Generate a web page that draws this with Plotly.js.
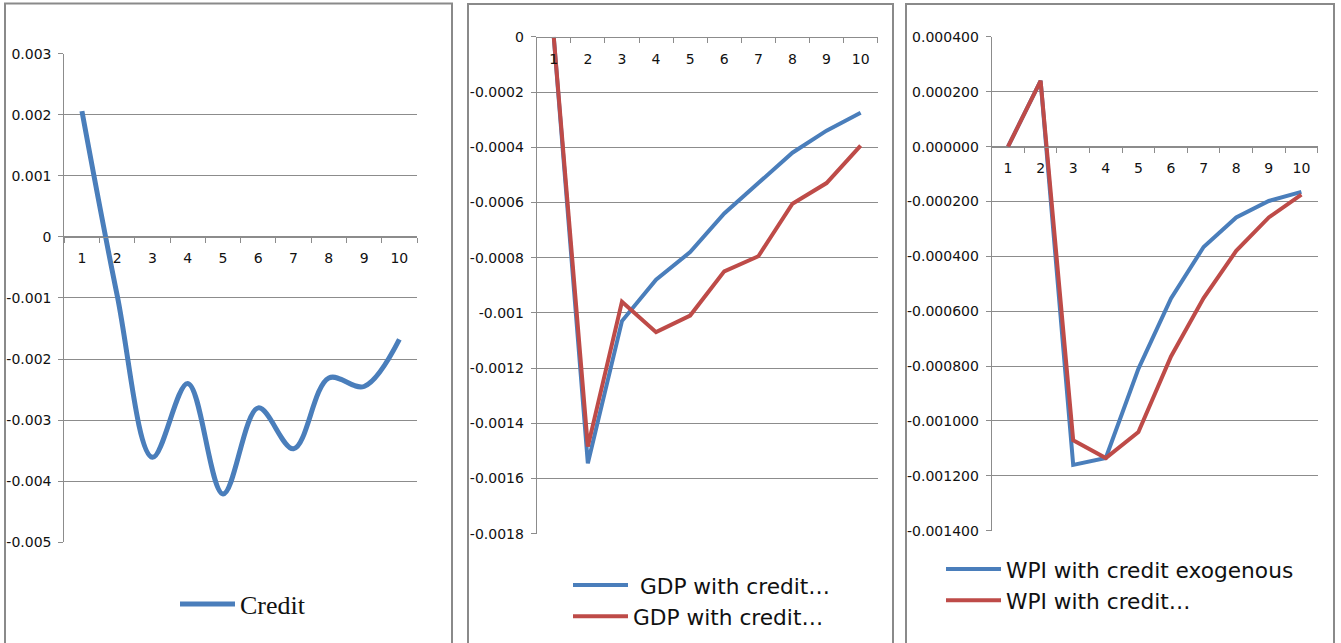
<!DOCTYPE html>
<html>
<head>
<meta charset="utf-8">
<script src="https://cdn.plot.ly/plotly-3.0.1.min.js"></script>
<style>
  body { margin: 0; background: #fff; }
  #chart { width: 1341px; height: 643px; }
</style>
</head>
<body>
<div id="chart"></div>
<script>
// periods 1..10 (impulse response horizon)
var periods = ['1', '2', '3', '4', '5', '6', '7', '8', '9', '10'];

// panel 1: credit response
var credit = [0.00206, -0.00096, -0.00361, -0.0024, -0.00421, -0.0028, -0.00347, -0.00231, -0.00245, -0.00168];

// panel 2: GDP response
var gdp_exo = [0, -0.001545, -0.00103, -0.00088, -0.00078, -0.00064, -0.00053, -0.00042, -0.00034, -0.000275];
var gdp_endo = [0, -0.001485, -0.00096, -0.00107, -0.00101, -0.00085, -0.000795, -0.000605, -0.00053, -0.000394];

// panel 3: WPI response
var wpi_exo = [0, 0.00024, -0.00116, -0.001135, -0.00081, -0.000553, -0.000366, -0.000258, -0.000198, -0.000165];
var wpi_endo = [0, 0.00024, -0.00107, -0.001135, -0.00104, -0.000765, -0.000552, -0.00038, -0.000258, -0.000175];

var credit_ticks = [0.003, 0.002, 0.001, 0, -0.001, -0.002, -0.003, -0.004, -0.005];
var credit_ticktext = ['0.003', '0.002', '0.001', '0', '-0.001', '-0.002', '-0.003', '-0.004', '-0.005'];
var gdp_ticks = [0, -0.0002, -0.0004, -0.0006, -0.0008, -0.001, -0.0012, -0.0014, -0.0016, -0.0018];
var gdp_ticktext = ['0', '-0.0002', '-0.0004', '-0.0006', '-0.0008', '-0.001', '-0.0012', '-0.0014', '-0.0016', '-0.0018'];
var wpi_ticks = [0.0004, 0.0002, 0, -0.0002, -0.0004, -0.0006, -0.0008, -0.001, -0.0012, -0.0014];
var wpi_ticktext = ['0.000400', '0.000200', '0.000000', '-0.000200', '-0.000400', '-0.000600', '-0.000800', '-0.001000', '-0.001200', '-0.001400'];

var W = 1341, H = 643;
var blue = '#4A7EBB', red = '#BE4B48', grid = '#8c8c8c';
var tickFont = {family: 'DejaVu Sans, Verdana, sans-serif', size: 14, color: '#111'};

function px(x) { return x / W; }
function py(y) { return 1 - y / H; }

function xaxis_at(x0, x1, zeroY) {
    return {
        type: 'category',
        domain: [px(x0), px(x1)],
        anchor: 'free',
        position: py(zeroY),
        range: [-0.5, 9.5],
        tickson: 'boundaries',
        ticks: 'outside',
        ticklen: 5,
        tickcolor: grid,
        showline: true,
        linecolor: grid,
        linewidth: 1,
        showgrid: false,
        tickfont: tickFont,
        ticklabelstandoff: 9,
        fixedrange: true
    };
}

function yaxis_at(anchor, yTop, yBot, range, vals, text) {
    return {
        anchor: anchor,
        domain: [py(yBot), py(yTop)],
        range: range,
        tickmode: 'array',
        tickvals: vals,
        ticktext: text,
        ticks: 'outside',
        ticklen: 5,
        tickcolor: grid,
        showline: true,
        linecolor: grid,
        linewidth: 1,
        showgrid: true,
        gridcolor: grid,
        gridwidth: 1,
        zeroline: false,
        tickfont: tickFont,
        ticklabelstandoff: 4,
        fixedrange: true
    };
}

var traces = [
    {x: periods, y: credit, xaxis: 'x', yaxis: 'y', mode: 'lines', name: 'Credit',
     line: {color: blue, width: 5, shape: 'spline', smoothing: 1}, legend: 'legend', showlegend: true},
    {x: periods, y: gdp_exo, xaxis: 'x2', yaxis: 'y2', mode: 'lines', name: '\u00a0GDP with credit\u2026',
     line: {color: blue, width: 4}, legend: 'legend2', showlegend: true},
    {x: periods, y: gdp_endo, xaxis: 'x2', yaxis: 'y2', mode: 'lines', name: 'GDP with credit\u2026',
     line: {color: red, width: 4}, legend: 'legend2', showlegend: true},
    {x: periods, y: wpi_exo, xaxis: 'x3', yaxis: 'y3', mode: 'lines', name: 'WPI with credit exogenous',
     line: {color: blue, width: 4}, legend: 'legend3', showlegend: true},
    {x: periods, y: wpi_endo, xaxis: 'x3', yaxis: 'y3', mode: 'lines', name: 'WPI with credit\u2026',
     line: {color: red, width: 4}, legend: 'legend3', showlegend: true}
];

function box(x0, x1, y0) {
    return {type: 'rect', xref: 'paper', yref: 'paper', layer: 'below',
            x0: px(x0), x1: px(x1), y0: py(y0), y1: py(H + 20),
            line: {color: '#8a8a8a', width: 2}};
}

var sansLegend = {family: 'DejaVu Sans, Verdana, sans-serif', size: 21.7, color: '#111'};

var layout = {
    width: W,
    height: H,
    margin: {l: 0, r: 0, t: 0, b: 0},
    paper_bgcolor: '#fff',
    plot_bgcolor: 'rgba(0,0,0,0)',
    showlegend: true,
    xaxis: xaxis_at(64.3, 417, 236.6),
    yaxis: yaxis_at('x', 53.7, 542.2, [-0.005, 0.003], credit_ticks, credit_ticktext),
    xaxis2: xaxis_at(536.7, 877.7, 36.8),
    yaxis2: yaxis_at('x2', 36.8, 533.6, [-0.0018, 0], gdp_ticks, gdp_ticktext),
    xaxis3: xaxis_at(991.7, 1317.7, 146.6),
    yaxis3: yaxis_at('x3', 36.9, 530.7, [-0.0014, 0.0004], wpi_ticks, wpi_ticktext),
    legend: {x: px(175), y: py(604), xanchor: 'left', yanchor: 'middle', itemwidth: 55,
             bgcolor: 'rgba(0,0,0,0)', font: {family: 'Liberation Serif, Times New Roman, serif', size: 26, color: '#111'}},
    legend2: {x: px(568), y: py(601), xanchor: 'left', yanchor: 'middle', itemwidth: 55,
              bgcolor: 'rgba(0,0,0,0)', font: sansLegend},
    legend3: {x: px(941), y: py(585), xanchor: 'left', yanchor: 'middle', itemwidth: 55,
              bgcolor: 'rgba(0,0,0,0)', font: sansLegend},
    shapes: [box(5, 452, 3.5), box(468, 893, 4), box(906, 1334, 4)]
};

Plotly.newPlot('chart', traces, layout, {staticPlot: true});
</script>
</body>
</html>
